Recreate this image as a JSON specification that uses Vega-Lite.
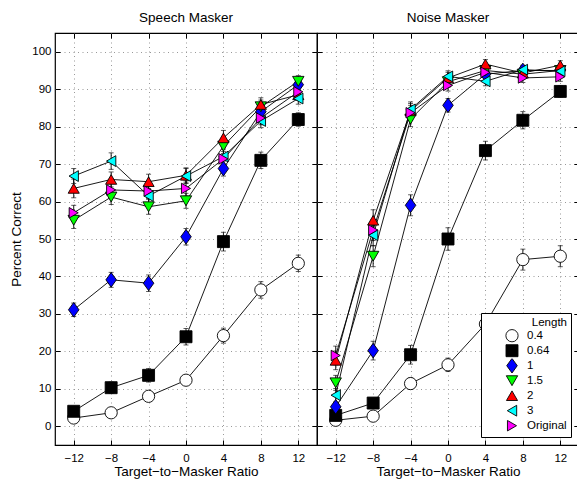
{
  "$schema": "https://vega.github.io/schema/vega-lite/v6.json",
  "padding": {"left": 9, "top": 10, "right": 0, "bottom": 0},
  "spacing": 0,
  "bounds": "flush",
  "config": {
    "font": "Liberation Sans",
    "view": {"stroke": "black", "strokeWidth": 1.2},
    "axis": {
      "grid": true, "gridColor": "#999", "gridDash": [1, 3.5], "gridWidth": 1,
      "domain": false, "tickColor": "black", "tickSize": -5, "tickWidth": 1,
      "labelFont": "Liberation Sans", "labelFontSize": 11.5, "labelColor": "black",
      "titleFont": "Liberation Sans", "titleFontSize": 13.5, "titleFontWeight": "normal", "titleColor": "black"
    },
    "axisX": {"labelPadding": 12, "titlePadding": 1},
    "axisY": {"labelPadding": 9, "titlePadding": 8},
    "title": {"font": "Liberation Sans", "fontSize": 13.5, "fontWeight": "normal", "color": "black", "offset": 8},
    "legend": {
      "labelFont": "Liberation Sans", "labelFontSize": 11.5, "labelColor": "black",
      "titleFont": "Liberation Sans", "titleFontSize": 11.5, "titleFontWeight": "normal", "titleColor": "black"
    }
  },
  "datasets": {
    "speech": [
      {"tmr": -12, "len": "0.4", "pc": 2.2, "err": 0.8},
      {"tmr": -8, "len": "0.4", "pc": 3.6, "err": 0.8},
      {"tmr": -4, "len": "0.4", "pc": 8.0, "err": 1.0},
      {"tmr": 0, "len": "0.4", "pc": 12.3, "err": 1.0},
      {"tmr": 4, "len": "0.4", "pc": 24.2, "err": 2.0},
      {"tmr": 8, "len": "0.4", "pc": 36.4, "err": 2.2},
      {"tmr": 12, "len": "0.4", "pc": 43.5, "err": 2.2},
      {"tmr": -12, "len": "0.64", "pc": 4.0, "err": 0.8},
      {"tmr": -8, "len": "0.64", "pc": 10.3, "err": 1.5},
      {"tmr": -4, "len": "0.64", "pc": 13.6, "err": 1.8},
      {"tmr": 0, "len": "0.64", "pc": 23.9, "err": 2.2},
      {"tmr": 4, "len": "0.64", "pc": 49.3, "err": 2.5},
      {"tmr": 8, "len": "0.64", "pc": 71.0, "err": 2.2},
      {"tmr": 12, "len": "0.64", "pc": 81.9, "err": 1.8},
      {"tmr": -12, "len": "1", "pc": 31.1, "err": 1.8},
      {"tmr": -8, "len": "1", "pc": 39.1, "err": 2.0},
      {"tmr": -4, "len": "1", "pc": 38.2, "err": 2.2},
      {"tmr": 0, "len": "1", "pc": 50.6, "err": 2.2},
      {"tmr": 4, "len": "1", "pc": 68.8, "err": 2.0},
      {"tmr": 8, "len": "1", "pc": 84.0, "err": 1.8},
      {"tmr": 12, "len": "1", "pc": 91.2, "err": 1.5},
      {"tmr": -12, "len": "1.5", "pc": 55.0, "err": 2.2},
      {"tmr": -8, "len": "1.5", "pc": 61.2, "err": 2.0},
      {"tmr": -4, "len": "1.5", "pc": 58.6, "err": 2.0},
      {"tmr": 0, "len": "1.5", "pc": 60.2, "err": 2.0},
      {"tmr": 4, "len": "1.5", "pc": 74.8, "err": 2.0},
      {"tmr": 8, "len": "1.5", "pc": 85.3, "err": 1.8},
      {"tmr": 12, "len": "1.5", "pc": 92.1, "err": 1.5},
      {"tmr": -12, "len": "2", "pc": 63.5, "err": 2.5},
      {"tmr": -8, "len": "2", "pc": 65.9, "err": 2.0},
      {"tmr": -4, "len": "2", "pc": 65.3, "err": 2.0},
      {"tmr": 0, "len": "2", "pc": 67.0, "err": 2.0},
      {"tmr": 4, "len": "2", "pc": 77.0, "err": 2.0},
      {"tmr": 8, "len": "2", "pc": 85.9, "err": 1.8},
      {"tmr": 12, "len": "2", "pc": 88.5, "err": 1.5},
      {"tmr": -12, "len": "3", "pc": 66.8, "err": 2.0},
      {"tmr": -8, "len": "3", "pc": 70.8, "err": 2.2},
      {"tmr": -4, "len": "3", "pc": 61.5, "err": 2.0},
      {"tmr": 0, "len": "3", "pc": 66.8, "err": 2.0},
      {"tmr": 4, "len": "3", "pc": 72.0, "err": 2.0},
      {"tmr": 8, "len": "3", "pc": 81.5, "err": 1.8},
      {"tmr": 12, "len": "3", "pc": 87.5, "err": 1.5},
      {"tmr": -12, "len": "Original", "pc": 57.0, "err": 2.0},
      {"tmr": -8, "len": "Original", "pc": 63.1, "err": 2.0},
      {"tmr": -4, "len": "Original", "pc": 62.8, "err": 2.0},
      {"tmr": 0, "len": "Original", "pc": 63.5, "err": 2.0},
      {"tmr": 4, "len": "Original", "pc": 71.4, "err": 2.0},
      {"tmr": 8, "len": "Original", "pc": 82.3, "err": 1.8},
      {"tmr": 12, "len": "Original", "pc": 89.3, "err": 1.5}
    ],
    "noise": [
      {"tmr": -12, "len": "0.4", "pc": 1.6, "err": 0.8},
      {"tmr": -8, "len": "0.4", "pc": 2.7, "err": 0.8},
      {"tmr": -4, "len": "0.4", "pc": 11.4, "err": 1.5},
      {"tmr": 0, "len": "0.4", "pc": 16.4, "err": 1.8},
      {"tmr": 4, "len": "0.4", "pc": 27.3, "err": 2.2},
      {"tmr": 8, "len": "0.4", "pc": 44.5, "err": 2.8},
      {"tmr": 12, "len": "0.4", "pc": 45.4, "err": 2.8},
      {"tmr": -12, "len": "0.64", "pc": 2.9, "err": 0.8},
      {"tmr": -8, "len": "0.64", "pc": 6.2, "err": 1.2},
      {"tmr": -4, "len": "0.64", "pc": 19.1, "err": 2.5},
      {"tmr": 0, "len": "0.64", "pc": 50.0, "err": 3.0},
      {"tmr": 4, "len": "0.64", "pc": 73.6, "err": 2.5},
      {"tmr": 8, "len": "0.64", "pc": 81.7, "err": 2.3},
      {"tmr": 12, "len": "0.64", "pc": 89.4, "err": 1.5},
      {"tmr": -12, "len": "1", "pc": 5.2, "err": 1.0},
      {"tmr": -8, "len": "1", "pc": 20.2, "err": 2.5},
      {"tmr": -4, "len": "1", "pc": 59.0, "err": 2.8},
      {"tmr": 0, "len": "1", "pc": 85.7, "err": 1.8},
      {"tmr": 4, "len": "1", "pc": 94.0, "err": 1.2},
      {"tmr": 8, "len": "1", "pc": 95.0, "err": 1.2},
      {"tmr": 12, "len": "1", "pc": 95.0, "err": 1.2},
      {"tmr": -12, "len": "1.5", "pc": 11.6, "err": 2.0},
      {"tmr": -8, "len": "1.5", "pc": 45.4, "err": 2.8},
      {"tmr": -4, "len": "1.5", "pc": 82.0, "err": 2.0},
      {"tmr": 0, "len": "1.5", "pc": 92.0, "err": 1.5},
      {"tmr": 4, "len": "1.5", "pc": 95.0, "err": 1.2},
      {"tmr": 8, "len": "1.5", "pc": 94.0, "err": 1.2},
      {"tmr": 12, "len": "1.5", "pc": 95.0, "err": 1.2},
      {"tmr": -12, "len": "2", "pc": 17.6, "err": 2.5},
      {"tmr": -8, "len": "2", "pc": 55.0, "err": 2.8},
      {"tmr": -4, "len": "2", "pc": 84.2, "err": 2.0},
      {"tmr": 0, "len": "2", "pc": 93.0, "err": 1.5},
      {"tmr": 4, "len": "2", "pc": 96.7, "err": 1.2},
      {"tmr": 8, "len": "2", "pc": 94.3, "err": 1.2},
      {"tmr": 12, "len": "2", "pc": 96.4, "err": 1.2},
      {"tmr": -12, "len": "3", "pc": 8.3, "err": 1.8},
      {"tmr": -8, "len": "3", "pc": 51.0, "err": 2.8},
      {"tmr": -4, "len": "3", "pc": 84.6, "err": 2.0},
      {"tmr": 0, "len": "3", "pc": 93.4, "err": 1.5},
      {"tmr": 4, "len": "3", "pc": 92.1, "err": 1.2},
      {"tmr": 8, "len": "3", "pc": 95.2, "err": 1.2},
      {"tmr": 12, "len": "3", "pc": 94.8, "err": 1.2},
      {"tmr": -12, "len": "Original", "pc": 18.9, "err": 2.5},
      {"tmr": -8, "len": "Original", "pc": 52.4, "err": 2.8},
      {"tmr": -4, "len": "Original", "pc": 83.7, "err": 2.0},
      {"tmr": 0, "len": "Original", "pc": 91.0, "err": 1.5},
      {"tmr": 4, "len": "Original", "pc": 94.5, "err": 1.2},
      {"tmr": 8, "len": "Original", "pc": 93.0, "err": 1.2},
      {"tmr": 12, "len": "Original", "pc": 93.3, "err": 1.2}
    ]
  },
  "resolve": {
    "scale": {"shape": "independent", "fill": "independent", "size": "independent"},
    "legend": {"shape": "independent", "fill": "independent", "size": "independent"}
  },
  "hconcat": [
    {
      "title": "Speech Masker",
      "width": 262,
      "height": 412,
      "data": {"name": "speech"},
      "resolve": {"axis": {"x": "independent", "y": "independent"}},
      "layer": [
        {
          "mark": {"type": "line", "color": "black", "strokeWidth": 0.9},
          "encoding": {
            "x": {"field": "tmr", "type": "quantitative", "scale": {"domain": [-14, 14], "nice": false},
                  "axis": {"values": [-12, -8, -4, 0, 4, 8, 12], "title": "Target−to−Masker Ratio"}},
            "y": {"field": "pc", "type": "quantitative", "scale": {"domain": [-5, 105], "nice": false},
                  "axis": {"values": [0, 10, 20, 30, 40, 50, 60, 70, 80, 90, 100], "title": "Percent Correct"}},
            "detail": {"field": "len"}
          }
        },
        {
          "mark": {"type": "errorbar", "ticks": {"size": 5, "color": "black"}, "color": "black", "thickness": 0.9},
          "encoding": {
            "x": {"field": "tmr", "type": "quantitative",
                  "axis": {"orient": "top", "values": [-12, -8, -4, 0, 4, 8, 12], "labels": false, "grid": false, "title": null}},
            "y": {"field": "pc", "type": "quantitative",
                  "axis": {"orient": "right", "values": [0, 10, 20, 30, 40, 50, 60, 70, 80, 90, 100], "labels": false, "grid": false, "title": null}},
            "yError": {"field": "err"},
            "detail": {"field": "len"}
          }
        },
        {
          "mark": {"type": "point", "filled": true, "stroke": "black", "strokeWidth": 0.9, "opacity": 1},
          "encoding": {
            "x": {"field": "tmr", "type": "quantitative", "axis": null},
            "y": {"field": "pc", "type": "quantitative", "axis": null},
            "shape": {"field": "len", "type": "nominal", "legend": null,
                      "scale": {"domain": ["0.4", "0.64", "1", "1.5", "2", "3", "Original"],
                                "range": ["circle", "square", "M0,-1.25L0.9,0L0,1.25L-0.9,0Z", "triangle-down", "triangle-up", "triangle-left", "triangle-right"]}},
            "fill": {"field": "len", "type": "nominal", "legend": null,
                     "scale": {"domain": ["0.4", "0.64", "1", "1.5", "2", "3", "Original"],
                               "range": ["#ffffff", "#000000", "#0000ff", "#00ff00", "#ff0000", "#00ffff", "#ff00ff"]}},
            "size": {"field": "len", "type": "nominal", "legend": null,
                     "scale": {"domain": ["0.4", "0.64", "1", "1.5", "2", "3", "Original"],
                               "range": [150, 110, 140, 200, 200, 200, 200]}}
          }
        }
      ]
    },
    {
      "title": "Noise Masker",
      "width": 262,
      "height": 412,
      "data": {"name": "noise"},
      "resolve": {"axis": {"x": "independent", "y": "independent"}},
      "layer": [
        {
          "mark": {"type": "line", "color": "black", "strokeWidth": 0.9},
          "encoding": {
            "x": {"field": "tmr", "type": "quantitative", "scale": {"domain": [-14, 14], "nice": false},
                  "axis": {"values": [-12, -8, -4, 0, 4, 8, 12], "title": "Target−to−Masker Ratio"}},
            "y": {"field": "pc", "type": "quantitative", "scale": {"domain": [-5, 105], "nice": false},
                  "axis": {"values": [0, 10, 20, 30, 40, 50, 60, 70, 80, 90, 100], "labels": false, "title": null}},
            "detail": {"field": "len"}
          }
        },
        {
          "mark": {"type": "errorbar", "ticks": {"size": 5, "color": "black"}, "color": "black", "thickness": 0.9},
          "encoding": {
            "x": {"field": "tmr", "type": "quantitative",
                  "axis": {"orient": "top", "values": [-12, -8, -4, 0, 4, 8, 12], "labels": false, "grid": false, "title": null}},
            "y": {"field": "pc", "type": "quantitative",
                  "axis": {"orient": "right", "values": [0, 10, 20, 30, 40, 50, 60, 70, 80, 90, 100], "labels": false, "grid": false, "title": null}},
            "yError": {"field": "err"},
            "detail": {"field": "len"}
          }
        },
        {
          "mark": {"type": "point", "filled": true, "stroke": "black", "strokeWidth": 0.9, "opacity": 1},
          "encoding": {
            "x": {"field": "tmr", "type": "quantitative", "axis": null},
            "y": {"field": "pc", "type": "quantitative", "axis": null},
            "shape": {"field": "len", "type": "nominal",
                      "scale": {"domain": ["0.4", "0.64", "1", "1.5", "2", "3", "Original"],
                                "range": ["circle", "square", "M0,-1.25L0.9,0L0,1.25L-0.9,0Z", "triangle-down", "triangle-up", "triangle-left", "triangle-right"]},
                      "legend": {"title": "Length", "orient": "bottom-right", "offset": 8,
                                 "strokeColor": "black", "fillColor": "white", "padding": 4,
                                 "titleAnchor": "end", "titlePadding": 0,
                                 "symbolOffset": 20, "labelOffset": 8, "rowPadding": 0, "clipHeight": 14.4,
                                 "symbolStrokeColor": "black", "symbolStrokeWidth": 0.9}},
            "fill": {"field": "len", "type": "nominal", "legend": {"title": "Length"},
                     "scale": {"domain": ["0.4", "0.64", "1", "1.5", "2", "3", "Original"],
                               "range": ["#ffffff", "#000000", "#0000ff", "#00ff00", "#ff0000", "#00ffff", "#ff00ff"]}},
            "size": {"field": "len", "type": "nominal", "legend": {"title": "Length"},
                     "scale": {"domain": ["0.4", "0.64", "1", "1.5", "2", "3", "Original"],
                               "range": [150, 110, 140, 200, 200, 200, 200]}}
          }
        }
      ]
    }
  ]
}
